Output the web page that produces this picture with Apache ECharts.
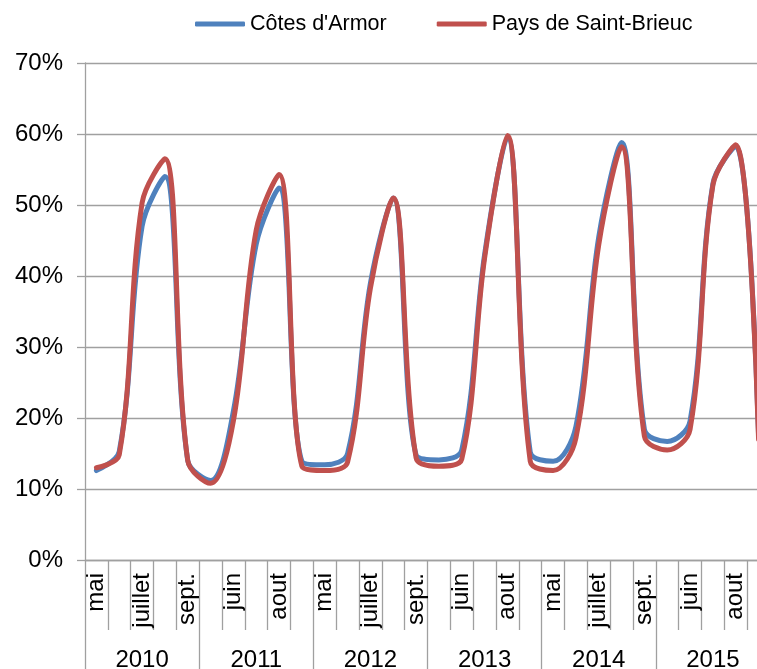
<!DOCTYPE html>
<html>
<head>
<meta charset="utf-8">
<title>Taux d'occupation</title>
<script src="https://cdn.jsdelivr.net/npm/echarts@6/dist/echarts.min.js"></script>
<style>
  html, body { margin: 0; padding: 0; background: #fff; }
  #myChart { width: 757px; height: 669px; }
</style>
</head>
<body>
<div id="myChart"></div>
<script>
  // categories : 5 mois par an, de 2010 a 2015
  var years = ['2010', '2011', '2012', '2013', '2014', '2015']
  var months = ['mai', 'juin', 'juillet', 'aout', 'sept.']
  var yTicks = [0, 10, 20, 30, 40, 50, 60, 70] // en %

  var seriesNames = ["Côtes d'Armor", 'Pays de Saint-Brieuc']
  // valeurs en %
  var cotesArmor = [
    12.6, 15.3, 47.0, 54.0, 14.0,
    11.2, 21.0, 44.5, 52.4, 13.9,
    13.4, 15.0, 39.0, 51.0, 14.8,
    14.1, 15.5, 43.0, 59.5, 15.2,
    13.9, 18.8, 45.5, 58.8, 18.4,
    16.7, 19.6, 53.0, 58.3, 17.5
  ]
  var saintBrieuc = [
    13.0, 14.8, 50.3, 56.5, 14.0,
    10.8, 19.6, 46.5, 54.3, 13.2,
    12.6, 13.8, 38.3, 51.0, 14.4,
    13.2, 14.2, 42.5, 59.8, 13.9,
    12.6, 17.2, 44.4, 58.2, 17.4,
    15.5, 18.4, 52.8, 58.5, 17.0
  ]

  var monthCats = []
  years.forEach(function (y) {
    months.forEach(function (m) { monthCats.push(m) })
  })

  var gray = '#a0a0a0'
  var font = '"Liberation Sans", Arial, sans-serif'

  var myChart = echarts.init(document.getElementById('myChart'))
  var option = {
    animation: false,
    textStyle: { fontFamily: font, color: '#000' },
    legend: {
      left: 190,
      top: 8,
      icon: 'roundRect',
      itemWidth: 50,
      itemHeight: 5,
      itemGap: 50,
      textStyle: { fontFamily: font, fontSize: 21.5, color: '#000' },
      data: seriesNames
    },
    // la zone de tracé depasse a droite (graphique rogné)
    grid: { left: 85, width: 685, top: 63, height: 497, outerBoundsMode: 'none' },
    xAxis: [{
      type: 'category',
      data: monthCats,
      boundaryGap: true,
      axisLine: { show: true, lineStyle: { color: gray, width: 1.3 } },
      axisTick: { show: true, interval: 0, length: 70, lineStyle: { color: gray, width: 1.3 } },
      axisLabel: {
        interval: 1,
        rotate: 90,
        margin: 13,
        fontSize: 24,
        color: '#000',
        fontFamily: font
      },
      splitLine: { show: false }
    }, {
      type: 'category',
      data: years,
      position: 'bottom',
      offset: 70,
      boundaryGap: true,
      axisLine: { show: false },
      axisTick: { show: true, interval: 0, length: 45, lineStyle: { color: gray, width: 1.3 } },
      axisLabel: { interval: 0, margin: 18, fontSize: 24, color: '#000', fontFamily: font }
    }],
    yAxis: {
      type: 'value',
      min: yTicks[0],
      max: yTicks[yTicks.length - 1],
      interval: 10,
      axisLine: { show: true, lineStyle: { color: gray, width: 1.3 } },
      axisTick: { show: true, length: 8, lineStyle: { color: gray, width: 1.3 } },
      axisLabel: { formatter: '{value}%', margin: 22, fontSize: 24, color: '#000', fontFamily: font },
      splitLine: { show: true, lineStyle: { color: gray, width: 1.3 } }
    },
    series: [{
      name: seriesNames[0],
      type: 'line',
      data: cotesArmor,
      smooth: 0.35,
      symbol: 'none',
      itemStyle: { color: '#4f81bd' },
      lineStyle: { color: '#4f81bd', width: 5, cap: 'round', join: 'round' }
    }, {
      name: seriesNames[1],
      type: 'line',
      data: saintBrieuc,
      smooth: 0.35,
      symbol: 'none',
      itemStyle: { color: '#c0504d' },
      lineStyle: { color: '#c0504d', width: 5, cap: 'round', join: 'round' }
    }]
  }

  myChart.setOption(option)
</script>
</body>
</html>
